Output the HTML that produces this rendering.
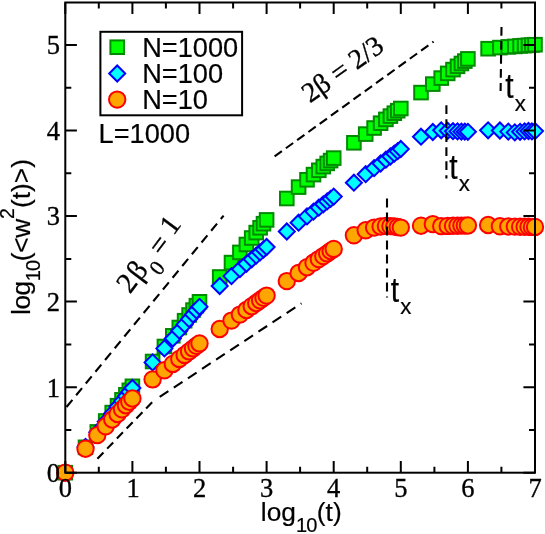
<!DOCTYPE html>
<html><head><meta charset="utf-8"><title>chart</title>
<style>html,body{margin:0;padding:0;background:#fff;}svg{display:block;will-change:transform;}text{font-family:"Liberation Sans",sans-serif;fill:#000;stroke:#000;stroke-width:0.2px;}.s{font-family:"Liberation Serif",serif;stroke:#000;stroke-width:0.35px;}</style>
</head><body>
<svg width="545" height="534" viewBox="0 0 545 534">
<rect width="545" height="534" fill="#fff"/>
<g fill="#00ff00" stroke="#008b00" stroke-width="2.00">
<rect x="58.5" y="465.9" width="13.6" height="13.6"/>
<rect x="78.7" y="440.5" width="13.6" height="13.6"/>
<rect x="90.5" y="425.1" width="13.6" height="13.6"/>
<rect x="98.9" y="414.2" width="13.6" height="13.6"/>
<rect x="105.4" y="405.8" width="13.6" height="13.6"/>
<rect x="110.7" y="398.9" width="13.6" height="13.6"/>
<rect x="115.2" y="393.0" width="13.6" height="13.6"/>
<rect x="119.1" y="388.0" width="13.6" height="13.6"/>
<rect x="122.5" y="383.5" width="13.6" height="13.6"/>
<rect x="125.6" y="379.5" width="13.6" height="13.6"/>
<rect x="145.8" y="354.7" width="13.6" height="13.6"/>
<rect x="157.6" y="339.7" width="13.6" height="13.6"/>
<rect x="166.0" y="329.0" width="13.6" height="13.6"/>
<rect x="172.5" y="320.7" width="13.6" height="13.6"/>
<rect x="177.8" y="313.9" width="13.6" height="13.6"/>
<rect x="182.3" y="308.2" width="13.6" height="13.6"/>
<rect x="186.2" y="303.3" width="13.6" height="13.6"/>
<rect x="189.6" y="298.9" width="13.6" height="13.6"/>
<rect x="192.7" y="295.0" width="13.6" height="13.6"/>
<rect x="212.9" y="270.2" width="13.6" height="13.6"/>
<rect x="224.7" y="255.8" width="13.6" height="13.6"/>
<rect x="233.1" y="245.6" width="13.6" height="13.6"/>
<rect x="239.6" y="237.7" width="13.6" height="13.6"/>
<rect x="244.9" y="231.2" width="13.6" height="13.6"/>
<rect x="249.4" y="225.8" width="13.6" height="13.6"/>
<rect x="253.3" y="221.0" width="13.6" height="13.6"/>
<rect x="256.7" y="216.9" width="13.6" height="13.6"/>
<rect x="259.8" y="213.1" width="13.6" height="13.6"/>
<rect x="280.0" y="191.7" width="13.6" height="13.6"/>
<rect x="291.8" y="180.3" width="13.6" height="13.6"/>
<rect x="300.2" y="173.0" width="13.6" height="13.6"/>
<rect x="306.7" y="167.8" width="13.6" height="13.6"/>
<rect x="312.0" y="163.5" width="13.6" height="13.6"/>
<rect x="316.5" y="159.8" width="13.6" height="13.6"/>
<rect x="320.4" y="156.6" width="13.6" height="13.6"/>
<rect x="323.8" y="153.8" width="13.6" height="13.6"/>
<rect x="326.9" y="151.3" width="13.6" height="13.6"/>
<rect x="347.1" y="136.0" width="13.6" height="13.6"/>
<rect x="358.9" y="127.3" width="13.6" height="13.6"/>
<rect x="367.3" y="121.2" width="13.6" height="13.6"/>
<rect x="373.8" y="116.4" width="13.6" height="13.6"/>
<rect x="379.1" y="112.6" width="13.6" height="13.6"/>
<rect x="383.6" y="109.3" width="13.6" height="13.6"/>
<rect x="387.5" y="106.4" width="13.6" height="13.6"/>
<rect x="390.9" y="103.9" width="13.6" height="13.6"/>
<rect x="394.0" y="101.7" width="13.6" height="13.6"/>
<rect x="414.2" y="85.8" width="13.6" height="13.6"/>
<rect x="426.0" y="77.3" width="13.6" height="13.6"/>
<rect x="434.4" y="71.3" width="13.6" height="13.6"/>
<rect x="440.9" y="66.6" width="13.6" height="13.6"/>
<rect x="446.2" y="62.8" width="13.6" height="13.6"/>
<rect x="450.7" y="59.5" width="13.6" height="13.6"/>
<rect x="454.6" y="56.7" width="13.6" height="13.6"/>
<rect x="458.0" y="54.3" width="13.6" height="13.6"/>
<rect x="461.1" y="52.1" width="13.6" height="13.6"/>
<rect x="481.3" y="41.9" width="13.6" height="13.6"/>
<rect x="493.1" y="40.8" width="13.6" height="13.6"/>
<rect x="501.5" y="40.1" width="13.6" height="13.6"/>
<rect x="508.0" y="39.6" width="13.6" height="13.6"/>
<rect x="513.3" y="39.1" width="13.6" height="13.6"/>
<rect x="517.8" y="38.8" width="13.6" height="13.6"/>
<rect x="521.7" y="38.5" width="13.6" height="13.6"/>
<rect x="525.1" y="38.2" width="13.6" height="13.6"/>
<rect x="528.2" y="37.9" width="13.6" height="13.6"/>
</g>
<g fill="#00ffff" stroke="#0000ff" stroke-width="2.0" stroke-linejoin="miter">
<path d="M57.3 472.7L65.3 464.7L73.3 472.7L65.3 480.7Z"/>
<path d="M77.5 447.0L85.5 439.0L93.5 447.0L85.5 455.0Z"/>
<path d="M89.3 432.2L97.3 424.2L105.3 432.2L97.3 440.2Z"/>
<path d="M97.7 421.6L105.7 413.6L113.7 421.6L105.7 429.6Z"/>
<path d="M104.2 413.4L112.2 405.4L120.2 413.4L112.2 421.4Z"/>
<path d="M109.5 406.7L117.5 398.7L125.5 406.7L117.5 414.7Z"/>
<path d="M114.0 401.1L122.0 393.1L130.0 401.1L122.0 409.1Z"/>
<path d="M117.9 396.2L125.9 388.2L133.9 396.2L125.9 404.2Z"/>
<path d="M121.3 391.9L129.3 383.9L137.3 391.9L129.3 399.9Z"/>
<path d="M124.4 388.0L132.4 380.0L140.4 388.0L132.4 396.0Z"/>
<path d="M144.6 362.4L152.6 354.4L160.6 362.4L152.6 370.4Z"/>
<path d="M156.4 348.4L164.4 340.4L172.4 348.4L164.4 356.4Z"/>
<path d="M164.8 338.5L172.8 330.5L180.8 338.5L172.8 346.5Z"/>
<path d="M171.3 330.7L179.3 322.7L187.3 330.7L179.3 338.7Z"/>
<path d="M176.6 324.4L184.6 316.4L192.6 324.4L184.6 332.4Z"/>
<path d="M181.1 319.1L189.1 311.1L197.1 319.1L189.1 327.1Z"/>
<path d="M185.0 314.5L193.0 306.5L201.0 314.5L193.0 322.5Z"/>
<path d="M188.4 310.4L196.4 302.4L204.4 310.4L196.4 318.4Z"/>
<path d="M191.5 306.8L199.5 298.8L207.5 306.8L199.5 314.8Z"/>
<path d="M211.7 286.0L219.7 278.0L227.7 286.0L219.7 294.0Z"/>
<path d="M223.5 276.1L231.5 268.1L239.5 276.1L231.5 284.1Z"/>
<path d="M231.9 269.2L239.9 261.2L247.9 269.2L239.9 277.2Z"/>
<path d="M238.4 263.8L246.4 255.8L254.4 263.8L246.4 271.8Z"/>
<path d="M243.7 259.3L251.7 251.3L259.7 259.3L251.7 267.3Z"/>
<path d="M248.2 255.6L256.2 247.6L264.2 255.6L256.2 263.6Z"/>
<path d="M252.1 252.4L260.1 244.4L268.1 252.4L260.1 260.4Z"/>
<path d="M255.5 249.5L263.5 241.5L271.5 249.5L263.5 257.5Z"/>
<path d="M258.6 247.0L266.6 239.0L274.6 247.0L266.6 255.0Z"/>
<path d="M278.8 231.5L286.8 223.5L294.8 231.5L286.8 239.5Z"/>
<path d="M290.6 222.7L298.6 214.7L306.6 222.7L298.6 230.7Z"/>
<path d="M299.0 216.4L307.0 208.4L315.0 216.4L307.0 224.4Z"/>
<path d="M305.5 211.6L313.5 203.6L321.5 211.6L313.5 219.6Z"/>
<path d="M310.8 207.7L318.8 199.7L326.8 207.7L318.8 215.7Z"/>
<path d="M315.3 204.3L323.3 196.3L331.3 204.3L323.3 212.3Z"/>
<path d="M319.2 201.4L327.2 193.4L335.2 201.4L327.2 209.4Z"/>
<path d="M322.6 198.9L330.6 190.9L338.6 198.9L330.6 206.9Z"/>
<path d="M325.7 196.6L333.7 188.6L341.7 196.6L333.7 204.6Z"/>
<path d="M345.9 182.7L353.9 174.7L361.9 182.7L353.9 190.7Z"/>
<path d="M357.7 174.2L365.7 166.2L373.7 174.2L365.7 182.2Z"/>
<path d="M366.1 168.2L374.1 160.2L382.1 168.2L374.1 176.2Z"/>
<path d="M372.6 163.5L380.6 155.5L388.6 163.5L380.6 171.5Z"/>
<path d="M377.9 159.7L385.9 151.7L393.9 159.7L385.9 167.7Z"/>
<path d="M382.4 156.5L390.4 148.5L398.4 156.5L390.4 164.5Z"/>
<path d="M386.3 153.7L394.3 145.7L402.3 153.7L394.3 161.7Z"/>
<path d="M389.7 151.2L397.7 143.2L405.7 151.2L397.7 159.2Z"/>
<path d="M392.8 149.0L400.8 141.0L408.8 149.0L400.8 157.0Z"/>
<path d="M413.0 136.7L421.0 128.7L429.0 136.7L421.0 144.7Z"/>
<path d="M424.8 132.0L432.8 124.0L440.8 132.0L432.8 140.0Z"/>
<path d="M433.2 130.3L441.2 122.3L449.2 130.3L441.2 138.3Z"/>
<path d="M439.7 130.8L447.7 122.8L455.7 130.8L447.7 138.8Z"/>
<path d="M445.0 131.2L453.0 123.2L461.0 131.2L453.0 139.2Z"/>
<path d="M449.5 131.4L457.5 123.4L465.5 131.4L457.5 139.4Z"/>
<path d="M453.4 131.6L461.4 123.6L469.4 131.6L461.4 139.6Z"/>
<path d="M456.8 131.7L464.8 123.7L472.8 131.7L464.8 139.7Z"/>
<path d="M459.9 131.8L467.9 123.8L475.9 131.8L467.9 139.8Z"/>
<path d="M480.1 130.3L488.1 122.3L496.1 130.3L488.1 138.3Z"/>
<path d="M491.9 130.5L499.9 122.5L507.9 130.5L499.9 138.5Z"/>
<path d="M500.3 131.6L508.3 123.6L516.3 131.6L508.3 139.6Z"/>
<path d="M506.8 132.4L514.8 124.4L522.8 132.4L514.8 140.4Z"/>
<path d="M512.1 131.8L520.1 123.8L528.1 131.8L520.1 139.8Z"/>
<path d="M516.6 131.4L524.6 123.4L532.6 131.4L524.6 139.4Z"/>
<path d="M520.5 131.0L528.5 123.0L536.5 131.0L528.5 139.0Z"/>
<path d="M523.9 131.4L531.9 123.4L539.9 131.4L531.9 139.4Z"/>
<path d="M527.0 131.1L535.0 123.1L543.0 131.1L535.0 139.1Z"/>
</g>
<g fill="#ffa500" stroke="#ff0000" stroke-width="2.0">
<circle cx="65.3" cy="472.7" r="8.2"/>
<circle cx="85.5" cy="448.7" r="8.2"/>
<circle cx="97.3" cy="435.1" r="8.2"/>
<circle cx="105.7" cy="426.3" r="8.2"/>
<circle cx="112.2" cy="419.5" r="8.2"/>
<circle cx="117.5" cy="414.0" r="8.2"/>
<circle cx="122.0" cy="409.3" r="8.2"/>
<circle cx="125.9" cy="405.2" r="8.2"/>
<circle cx="129.3" cy="401.7" r="8.2"/>
<circle cx="132.4" cy="398.5" r="8.2"/>
<circle cx="152.6" cy="379.4" r="8.2"/>
<circle cx="164.4" cy="370.3" r="8.2"/>
<circle cx="172.8" cy="363.9" r="8.2"/>
<circle cx="179.3" cy="358.9" r="8.2"/>
<circle cx="184.6" cy="354.9" r="8.2"/>
<circle cx="189.1" cy="351.4" r="8.2"/>
<circle cx="193.0" cy="348.4" r="8.2"/>
<circle cx="196.4" cy="345.8" r="8.2"/>
<circle cx="199.5" cy="343.4" r="8.2"/>
<circle cx="219.7" cy="329.0" r="8.2"/>
<circle cx="231.5" cy="320.6" r="8.2"/>
<circle cx="239.9" cy="314.6" r="8.2"/>
<circle cx="246.4" cy="310.0" r="8.2"/>
<circle cx="251.7" cy="306.2" r="8.2"/>
<circle cx="256.2" cy="303.0" r="8.2"/>
<circle cx="260.1" cy="300.3" r="8.2"/>
<circle cx="263.5" cy="297.8" r="8.2"/>
<circle cx="266.6" cy="295.6" r="8.2"/>
<circle cx="286.8" cy="281.1" r="8.2"/>
<circle cx="298.6" cy="273.0" r="8.2"/>
<circle cx="307.0" cy="267.2" r="8.2"/>
<circle cx="313.5" cy="262.8" r="8.2"/>
<circle cx="318.8" cy="259.1" r="8.2"/>
<circle cx="323.3" cy="256.1" r="8.2"/>
<circle cx="327.2" cy="253.4" r="8.2"/>
<circle cx="330.6" cy="251.0" r="8.2"/>
<circle cx="333.7" cy="248.9" r="8.2"/>
<circle cx="353.9" cy="235.3" r="8.2"/>
<circle cx="365.7" cy="230.3" r="8.2"/>
<circle cx="374.1" cy="227.6" r="8.2"/>
<circle cx="380.6" cy="226.5" r="8.2"/>
<circle cx="385.9" cy="225.9" r="8.2"/>
<circle cx="390.4" cy="226.1" r="8.2"/>
<circle cx="394.3" cy="226.5" r="8.2"/>
<circle cx="397.7" cy="227.0" r="8.2"/>
<circle cx="400.8" cy="227.6" r="8.2"/>
<circle cx="421.0" cy="225.7" r="8.2"/>
<circle cx="432.8" cy="224.1" r="8.2"/>
<circle cx="441.2" cy="226.1" r="8.2"/>
<circle cx="447.7" cy="225.9" r="8.2"/>
<circle cx="453.0" cy="225.8" r="8.2"/>
<circle cx="457.5" cy="225.7" r="8.2"/>
<circle cx="461.4" cy="225.6" r="8.2"/>
<circle cx="464.8" cy="225.6" r="8.2"/>
<circle cx="467.9" cy="225.5" r="8.2"/>
<circle cx="488.1" cy="225.0" r="8.2"/>
<circle cx="499.9" cy="226.3" r="8.2"/>
<circle cx="508.3" cy="226.5" r="8.2"/>
<circle cx="514.8" cy="226.6" r="8.2"/>
<circle cx="520.1" cy="226.7" r="8.2"/>
<circle cx="524.6" cy="226.8" r="8.2"/>
<circle cx="528.5" cy="226.8" r="8.2"/>
<circle cx="531.9" cy="226.9" r="8.2"/>
<circle cx="535.0" cy="226.9" r="8.2"/>
</g>
<g stroke="#000" stroke-width="2.0" fill="none" stroke-linecap="butt">
<rect x="65.3" y="2.5" width="469.7" height="470.2"/>
<path d="M65.3 472.7v-11.6 M65.3 2.5v11.6"/>
<path d="M98.8 472.7v-6.0 M98.8 2.5v6.0"/>
<path d="M132.4 472.7v-11.6 M132.4 2.5v11.6"/>
<path d="M165.9 472.7v-6.0 M165.9 2.5v6.0"/>
<path d="M199.5 472.7v-11.6 M199.5 2.5v11.6"/>
<path d="M233.1 472.7v-6.0 M233.1 2.5v6.0"/>
<path d="M266.6 472.7v-11.6 M266.6 2.5v11.6"/>
<path d="M300.1 472.7v-6.0 M300.1 2.5v6.0"/>
<path d="M333.7 472.7v-11.6 M333.7 2.5v11.6"/>
<path d="M367.2 472.7v-6.0 M367.2 2.5v6.0"/>
<path d="M400.8 472.7v-11.6 M400.8 2.5v11.6"/>
<path d="M434.4 472.7v-6.0 M434.4 2.5v6.0"/>
<path d="M467.9 472.7v-11.6 M467.9 2.5v11.6"/>
<path d="M501.4 472.7v-6.0 M501.4 2.5v6.0"/>
<path d="M535.0 472.7v-11.6 M535.0 2.5v11.6"/>
<path d="M65.3 472.7h11.6 M535.0 472.7h-11.6"/>
<path d="M65.3 429.9h6.0 M535.0 429.9h-6.0"/>
<path d="M65.3 387.2h11.6 M535.0 387.2h-11.6"/>
<path d="M65.3 344.4h6.0 M535.0 344.4h-6.0"/>
<path d="M65.3 301.6h11.6 M535.0 301.6h-11.6"/>
<path d="M65.3 258.9h6.0 M535.0 258.9h-6.0"/>
<path d="M65.3 216.1h11.6 M535.0 216.1h-11.6"/>
<path d="M65.3 173.3h6.0 M535.0 173.3h-6.0"/>
<path d="M65.3 130.5h11.6 M535.0 130.5h-11.6"/>
<path d="M65.3 87.8h6.0 M535.0 87.8h-6.0"/>
<path d="M65.3 45.0h11.6 M535.0 45.0h-11.6"/>
</g>
<g class="s" font-size="26.5" text-anchor="middle">
<text class="s" x="65.3" y="496.5">0</text>
<text class="s" x="133.1" y="496.5">1</text>
<text class="s" x="199.5" y="496.5">2</text>
<text class="s" x="266.6" y="496.5">3</text>
<text class="s" x="333.7" y="496.5">4</text>
<text class="s" x="400.8" y="496.5">5</text>
<text class="s" x="467.9" y="496.5">6</text>
<text class="s" x="535.0" y="496.5">7</text>
</g>
<g font-size="26.5" text-anchor="end">
<text class="s" x="60.0" y="482.0">0</text>
<text class="s" x="60.0" y="396.5">1</text>
<text class="s" x="60.0" y="310.9">2</text>
<text class="s" x="60.0" y="225.4">3</text>
<text class="s" x="60.0" y="139.8">4</text>
<text class="s" x="60.0" y="54.3">5</text>
</g>
<text x="260.8" y="521.4" font-size="26.3">log<tspan font-size="20" dy="10.8" letter-spacing="-0.8">10</tspan><tspan dy="-10.8" dx="0.3">(t)</tspan></text>
<text transform="translate(29.8 315) rotate(-90)" font-size="26.3"><tspan letter-spacing="-0.45">log</tspan><tspan font-size="20" dy="10.5" letter-spacing="-0.8">10</tspan><tspan dy="-10.5" dx="-0.6" letter-spacing="-0.3">(&lt;w</tspan><tspan font-size="19.5" dy="-16.3" letter-spacing="-0.5">2</tspan><tspan dy="16.3" dx="0.6">(t)&gt;)</tspan></text>
<rect x="100.4" y="31.8" width="141.7" height="83.5" fill="#fff" stroke="#000" stroke-width="2"/>
<rect x="110.4" y="40.4" width="13.6" height="13.6" fill="#00ff00" stroke="#008b00" stroke-width="2.00"/>
<path d="M109.2 73.5L117.2 65.5L125.2 73.5L117.2 81.5Z" fill="#00ffff" stroke="#0000ff" stroke-width="2.0"/>
<circle cx="117.2" cy="99.6" r="8.2" fill="#ffa500" stroke="#ff0000" stroke-width="2.0"/>
<g font-size="27.2">
<text x="142.2" y="57.0">N=1000</text>
<text x="142.2" y="82.7">N=100</text>
<text x="142.2" y="108.5">N=10</text>
<text x="98.6" y="142.5">L=1000</text>
</g>
<g stroke="#000" stroke-width="2.1" fill="none">
<path d="M66.5 407L223.6 215.6" stroke-dasharray="9.3 5.9"/>
<path d="M97.4 458.7L153 401.3" stroke-dasharray="8.7 5.3"/>
<path d="M159.7 396.9L301.5 303.3" stroke-dasharray="10.4 6.5"/>
<path d="M274.6 156.4L433.6 41.6" stroke-dasharray="9 4.9"/>
</g>
<g stroke="#000" stroke-width="2.1" fill="none" stroke-dasharray="8.8 5.2">
<path d="M387 198.6V297.4"/>
<path d="M446.4 105.2V178.4"/>
<path d="M501.5 26.9L500.6 91"/>
</g>
<g transform="translate(390.8 301.9)"><text transform="scale(1 1.155)" font-size="30">t</text><text x="9.4" y="12.3" font-size="22.3">x</text></g>
<g transform="translate(449.3 178.6)"><text transform="scale(1 1.155)" font-size="30">t</text><text x="9.4" y="12.3" font-size="22.3">x</text></g>
<g transform="translate(505.3 98.2)"><text transform="scale(1 1.155)" font-size="30">t</text><text x="9.4" y="12.3" font-size="22.3">x</text></g>
<g transform="translate(129.3 294.6) rotate(-53)" font-size="29"><text class="s" x="0.45" y="0.6">2</text><text class="s" x="16.7" y="1.2">β</text><text class="s" x="32.6" y="13.1" font-size="21.5">0</text><text class="s" x="49.7" y="3.3">=</text><text class="s" x="73.0" y="0">1</text></g>
<text class="s" transform="translate(310.1 103.6) rotate(-35.6)" font-size="28" letter-spacing="-0.15">2β = 2/3</text>
</svg></body></html>
